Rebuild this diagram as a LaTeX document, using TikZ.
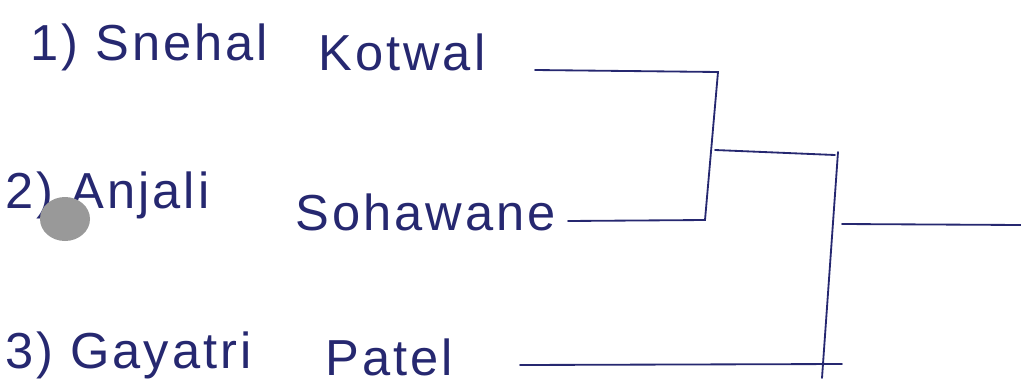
\documentclass[tikz,border=0pt]{standalone}
\usepackage{fontspec}
\setmainfont{Liberation Sans}
\usepackage{tikz}

\definecolor{ink}{RGB}{38,40,112}

\tikzset{
  hand/.style={font=\fontsize{36}{40}\selectfont\addfontfeatures{LetterSpace=6}, text=ink, inner sep=0pt, anchor=west},
  wire/.style={ink, line width=1.3pt, line cap=round}
}

\begin{document}
\begin{tikzpicture}[x=0.025cm,y=-0.025cm]
\useasboundingbox (0,0) rectangle (1021,389);

% first names
\node[hand] (first1) at (30,47) {1) Snehal};
\node[hand] (first2) at (5,195) {2) Anjali};
\node[hand] (first3) at (5,355) {3) Gayatri};

% surnames
\node[hand] (kotwal) at (318,52) {Kotwal};
\node[hand] (sohawane) at (295,212) {Sohawane};
\node[hand] (patel) at (325,357) {Patel};

% ink blot
\fill[gray!80] (65,219) ellipse [x radius=25, y radius=22];

% bracket corners
\coordinate (k0) at (535,70);
\coordinate (k1) at (718,72);
\coordinate (s0) at (568,221);
\coordinate (s1) at (705,220);
\coordinate (m1) at (715,150);
\coordinate (m2) at (835,155);
\coordinate (v1) at (838,152);
\coordinate (v2) at (822,378);
\coordinate (p0) at (520,365);
\coordinate (p1) at (842,364);
\coordinate (w0) at (842,224);
\coordinate (w1) at (1021,225);

\draw[wire] (k0) -- (k1) -- (s1) -- (s0);
\draw[wire] (m1) -- (m2);
\draw[wire] (v1) -- (v2);
\draw[wire] (p0) -- (p1);
\draw[wire] (w0) -- (w1);
\end{tikzpicture}
\end{document}
